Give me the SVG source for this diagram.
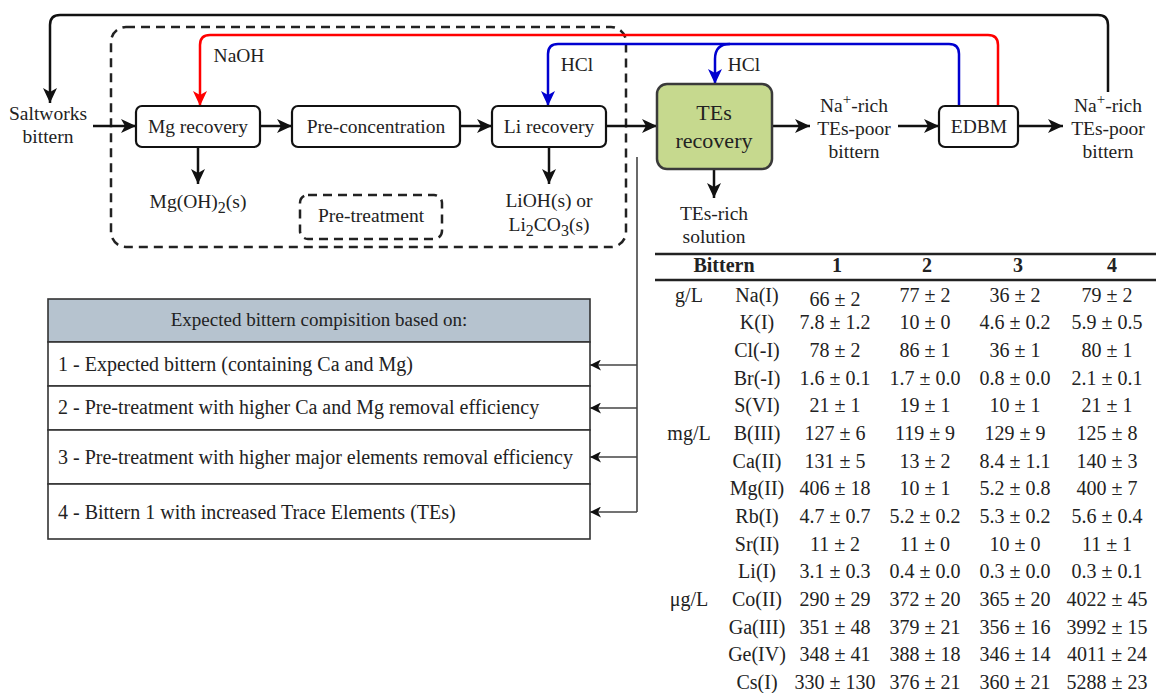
<svg xmlns="http://www.w3.org/2000/svg" width="1156" height="693" viewBox="0 0 1156 693" font-family="'Liberation Serif', 'Times New Roman', Times, 'DejaVu Serif', serif">
<style>
text{font-family:'Liberation Serif','Times New Roman',Times,'DejaVu Serif',serif;fill:#222;}
.f{font-size:19.5px;text-anchor:middle;}
.t{font-size:20px;text-anchor:middle;}
.lg{font-size:20px;}
.box{fill:#fff;stroke:#111;stroke-width:2.2;}
.dash{fill:none;stroke:#222;stroke-width:2.5;stroke-dasharray:9 6;}
.c{fill:none;stroke:#111;stroke-width:2.5;}
.red{fill:none;stroke:#ff0000;stroke-width:2.5;}
.blue{fill:none;stroke:#0000d0;stroke-width:2.5;}
.thin{fill:none;stroke:#444;stroke-width:1.6;}
</style>
<defs>
<marker id="ab" markerUnits="userSpaceOnUse" markerWidth="16" markerHeight="14" refX="15" refY="7" orient="auto"><path d="M0,0 L15,7 L0,14 L4,7 Z" fill="#111"/></marker>
<marker id="ar" markerUnits="userSpaceOnUse" markerWidth="16" markerHeight="14" refX="15" refY="7" orient="auto"><path d="M0,0 L15,7 L0,14 L4,7 Z" fill="#ff0000"/></marker>
<marker id="abl" markerUnits="userSpaceOnUse" markerWidth="16" markerHeight="14" refX="15" refY="7" orient="auto"><path d="M0,0 L15,7 L0,14 L4,7 Z" fill="#0000d0"/></marker>
<marker id="as" markerUnits="userSpaceOnUse" markerWidth="12" markerHeight="11" refX="11" refY="5.5" orient="auto"><path d="M0,0 L11,5.5 L0,11 L3,5.5 Z" fill="#111"/></marker>
</defs>

<g id="pretreatment-group">
<rect class="dash" x="111" y="27" width="515" height="220" rx="15"/>
</g>

<g id="connectors">
<path class="c" d="M1108,92 V25 Q1108,15 1098,15 H60 Q50,15 50,25 V103" marker-end="url(#ab)"/>
<path class="red" d="M998,106 V45 Q998,35 988,35 H210 Q200,35 200,45 V106" marker-end="url(#ar)"/>
<path class="blue" d="M959,106 V54 Q959,44 949,44 H558 Q548,44 548,54 V106" marker-end="url(#abl)"/>
<path class="blue" d="M730,44 Q715,44 715,59 V84" marker-end="url(#abl)"/>
<path class="c" d="M93,126 H136" marker-end="url(#ab)"/>
<path class="c" d="M260,126 H292" marker-end="url(#ab)"/>
<path class="c" d="M460,126 H492" marker-end="url(#ab)"/>
<path class="c" d="M606,126 H657" marker-end="url(#ab)"/>
<path class="c" d="M772,126 H810" marker-end="url(#ab)"/>
<path class="c" d="M898,126 H939" marker-end="url(#ab)"/>
<path class="c" d="M1018,126 H1063" marker-end="url(#ab)"/>
<path class="c" d="M198,147 V184" marker-end="url(#ab)"/>
<path class="c" d="M549,147 V184" marker-end="url(#ab)"/>
<path class="c" d="M714,169 V198" marker-end="url(#ab)"/>
<path class="thin" d="M637,157 V512"/>
<path class="thin" d="M637,365 H590" marker-end="url(#as)"/>
<path class="thin" d="M637,408 H590" marker-end="url(#as)"/>
<path class="thin" d="M637,457 H590" marker-end="url(#as)"/>
<path class="thin" d="M637,512 H590" marker-end="url(#as)"/>
</g>

<g id="labels">
<text class="f" x="48" y="120">Saltworks</text>
<text class="f" x="48" y="143">bittern</text>
<text class="f" x="239" y="62">NaOH</text>
<text class="f" x="577" y="71">HCl</text>
<text class="f" x="744" y="71">HCl</text>
<text class="f" x="198" y="208">Mg(OH)<tspan font-size="16" dy="5">2</tspan><tspan dy="-5">(s)</tspan></text>
<text class="f" x="549" y="207">LiOH(s) or</text>
<text class="f" x="549" y="231">Li<tspan font-size="16" dy="5">2</tspan><tspan dy="-5">CO</tspan><tspan font-size="16" dy="5">3</tspan><tspan dy="-5">(s)</tspan></text>
<text class="f" x="714" y="220">TEs-rich</text>
<text class="f" x="714" y="243">solution</text>
<text class="f" x="854" y="112">Na<tspan font-size="15" dy="-8">+</tspan><tspan dy="8">-rich</tspan></text>
<text class="f" x="854" y="135">TEs-poor</text>
<text class="f" x="854" y="158">bittern</text>
<text class="f" x="1108" y="112">Na<tspan font-size="15" dy="-8">+</tspan><tspan dy="8">-rich</tspan></text>
<text class="f" x="1108" y="135">TEs-poor</text>
<text class="f" x="1108" y="158">bittern</text>
</g>

<g id="mg-recovery">
<rect class="box" x="136" y="106" width="124" height="41" rx="6"/>
<text class="f" x="198" y="133">Mg recovery</text>
</g>
<g id="pre-concentration">
<rect class="box" x="292" y="106" width="168" height="41" rx="6"/>
<text class="f" x="376" y="133">Pre-concentration</text>
</g>
<g id="li-recovery">
<rect class="box" x="492" y="106" width="114" height="41" rx="6"/>
<text class="f" x="549" y="133">Li recovery</text>
</g>
<g id="tes-recovery">
<rect x="657" y="84" width="115" height="85" rx="10" fill="#c6d98e" stroke="#3a3a3a" stroke-width="2.5"/>
<text class="f" x="714" y="120" style="font-size:22px">TEs</text>
<text class="f" x="714" y="148" style="font-size:22px">recovery</text>
</g>
<g id="edbm">
<rect class="box" x="939" y="106" width="79" height="41" rx="6"/>
<text class="f" x="979" y="133">EDBM</text>
</g>
<g id="pre-treatment">
<rect class="dash" x="300" y="195" width="142" height="44" rx="8"/>
<text class="f" x="371" y="222">Pre-treatment</text>
</g>

<g id="legend">
<rect x="48" y="299" width="542" height="43" fill="#b6c3cf" stroke="#333" stroke-width="1.6"/>
<rect x="48" y="342" width="542" height="44" fill="#fff" stroke="#333" stroke-width="1.6"/>
<rect x="48" y="386" width="542" height="44" fill="#fff" stroke="#333" stroke-width="1.6"/>
<rect x="48" y="430" width="542" height="54" fill="#fff" stroke="#333" stroke-width="1.6"/>
<rect x="48" y="484" width="542" height="55" fill="#fff" stroke="#333" stroke-width="1.6"/>
<text class="lg" x="319" y="326" text-anchor="middle" style="font-size:19px">Expected bittern compisition based on:</text>
<text class="lg" x="58" y="371">1 - Expected bittern (containing Ca and Mg)</text>
<text class="lg" x="58" y="414">2 - Pre-treatment with higher Ca and Mg removal efficiency</text>
<text class="lg" x="58" y="464">3 - Pre-treatment with higher major elements removal efficiency</text>
<text class="lg" x="58" y="519">4 - Bittern 1 with increased Trace Elements (TEs)</text>
</g>

<g id="table">
<line x1="655" y1="254" x2="1156" y2="254" stroke="#222" stroke-width="2.5"/>
<line x1="655" y1="280" x2="1156" y2="280" stroke="#222" stroke-width="2.5"/>
<text class="t" x="724" y="272" font-weight="bold">Bittern</text>
<text class="t" x="837" y="272" font-weight="bold">1</text>
<text class="t" x="927" y="272" font-weight="bold">2</text>
<text class="t" x="1018" y="272" font-weight="bold">3</text>
<text class="t" x="1112" y="272" font-weight="bold">4</text>
<text class="t" x="689" y="302">g/L</text>
<text class="t" x="689" y="440">mg/L</text>
<text class="t" x="689" y="606">μg/L</text>
<g>
<text class="t" x="757" y="302">Na(I)</text><text class="t" x="835" y="306">66 ± 2</text><text class="t" x="925" y="302">77 ± 2</text><text class="t" x="1015" y="302">36 ± 2</text><text class="t" x="1107" y="302">79 ± 2</text>
<text class="t" x="757" y="329">K(I)</text><text class="t" x="835" y="329">7.8 ± 1.2</text><text class="t" x="925" y="329">10 ± 0</text><text class="t" x="1015" y="329">4.6 ± 0.2</text><text class="t" x="1107" y="329">5.9 ± 0.5</text>
<text class="t" x="757" y="357">Cl(-I)</text><text class="t" x="835" y="357">78 ± 2</text><text class="t" x="925" y="357">86 ± 1</text><text class="t" x="1015" y="357">36 ± 1</text><text class="t" x="1107" y="357">80 ± 1</text>
<text class="t" x="757" y="385">Br(-I)</text><text class="t" x="835" y="385">1.6 ± 0.1</text><text class="t" x="925" y="385">1.7 ± 0.0</text><text class="t" x="1015" y="385">0.8 ± 0.0</text><text class="t" x="1107" y="385">2.1 ± 0.1</text>
<text class="t" x="757" y="412">S(VI)</text><text class="t" x="835" y="412">21 ± 1</text><text class="t" x="925" y="412">19 ± 1</text><text class="t" x="1015" y="412">10 ± 1</text><text class="t" x="1107" y="412">21 ± 1</text>
<text class="t" x="757" y="440">B(III)</text><text class="t" x="835" y="440">127 ± 6</text><text class="t" x="925" y="440">119 ± 9</text><text class="t" x="1015" y="440">129 ± 9</text><text class="t" x="1107" y="440">125 ± 8</text>
<text class="t" x="757" y="468">Ca(II)</text><text class="t" x="835" y="468">131 ± 5</text><text class="t" x="925" y="468">13 ± 2</text><text class="t" x="1015" y="468">8.4 ± 1.1</text><text class="t" x="1107" y="468">140 ± 3</text>
<text class="t" x="757" y="495">Mg(II)</text><text class="t" x="835" y="495">406 ± 18</text><text class="t" x="925" y="495">10 ± 1</text><text class="t" x="1015" y="495">5.2 ± 0.8</text><text class="t" x="1107" y="495">400 ± 7</text>
<text class="t" x="757" y="523">Rb(I)</text><text class="t" x="835" y="523">4.7 ± 0.7</text><text class="t" x="925" y="523">5.2 ± 0.2</text><text class="t" x="1015" y="523">5.3 ± 0.2</text><text class="t" x="1107" y="523">5.6 ± 0.4</text>
<text class="t" x="757" y="551">Sr(II)</text><text class="t" x="835" y="551">11 ± 2</text><text class="t" x="925" y="551">11 ± 0</text><text class="t" x="1015" y="551">10 ± 0</text><text class="t" x="1107" y="551">11 ± 1</text>
<text class="t" x="757" y="578">Li(I)</text><text class="t" x="835" y="578">3.1 ± 0.3</text><text class="t" x="925" y="578">0.4 ± 0.0</text><text class="t" x="1015" y="578">0.3 ± 0.0</text><text class="t" x="1107" y="578">0.3 ± 0.1</text>
<text class="t" x="757" y="606">Co(II)</text><text class="t" x="835" y="606">290 ± 29</text><text class="t" x="925" y="606">372 ± 20</text><text class="t" x="1015" y="606">365 ± 20</text><text class="t" x="1107" y="606">4022 ± 45</text>
<text class="t" x="757" y="634">Ga(III)</text><text class="t" x="835" y="634">351 ± 48</text><text class="t" x="925" y="634">379 ± 21</text><text class="t" x="1015" y="634">356 ± 16</text><text class="t" x="1107" y="634">3992 ± 15</text>
<text class="t" x="757" y="661">Ge(IV)</text><text class="t" x="835" y="661">348 ± 41</text><text class="t" x="925" y="661">388 ± 18</text><text class="t" x="1015" y="661">346 ± 14</text><text class="t" x="1107" y="661">4011 ± 24</text>
<text class="t" x="757" y="689">Cs(I)</text><text class="t" x="835" y="689">330 ± 130</text><text class="t" x="925" y="689">376 ± 21</text><text class="t" x="1015" y="689">360 ± 21</text><text class="t" x="1107" y="689">5288 ± 23</text>
</g>
</g>
</svg>
